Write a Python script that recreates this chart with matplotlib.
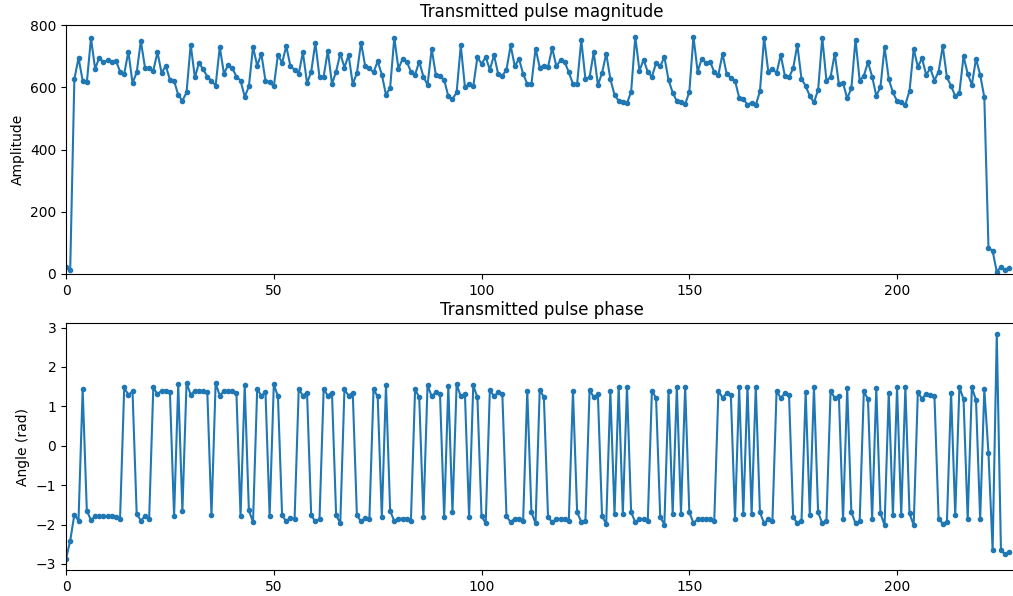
import matplotlib
matplotlib.use("Agg")
import matplotlib.pyplot as plt
import numpy as np

# Pulse magnitude, one value per sample
magnitude = [
    22, 13, 626, 695, 622, 616, 758, 660, 696, 681,
    687, 683, 686, 651, 644, 715, 614, 648, 749, 664,
    661, 654, 713, 646, 669, 625, 621, 576, 557, 584,
    738, 632, 679, 658, 635, 621, 606, 730, 644, 672,
    662, 635, 622, 570, 603, 730, 670, 708, 621, 618,
    603, 705, 679, 733, 668, 657, 644, 713, 614, 650,
    744, 633, 635, 718, 611, 651, 709, 664, 704, 611,
    646, 744, 668, 662, 648, 684, 641, 576, 599, 760,
    660, 692, 682, 651, 641, 683, 635, 608, 724, 640,
    637, 624, 572, 562, 584, 735, 601, 610, 603, 697,
    676, 697, 657, 704, 643, 637, 657, 735, 668, 692,
    644, 611, 611, 725, 664, 670, 666, 727, 668, 687,
    682, 649, 611, 611, 752, 627, 633, 714, 608, 646,
    709, 627, 576, 557, 554, 549, 586, 763, 654, 689,
    650, 634, 678, 668, 698, 624, 583, 556, 552, 546,
    585, 763, 651, 692, 679, 683, 649, 641, 708, 643,
    630, 622, 567, 562, 545, 551, 543, 588, 760, 651,
    660, 646, 705, 637, 632, 662, 737, 627, 605, 572,
    552, 592, 760, 622, 633, 709, 610, 614, 565, 597,
    754, 622, 637, 681, 635, 573, 601, 730, 627, 584,
    556, 552, 545, 589, 724, 666, 694, 641, 661, 622,
    651, 733, 632, 605, 572, 583, 700, 644, 608, 692,
    641, 568, 85, 74, 7, 23, 14, 20,
]

# Pulse phase in radians
phase = [
    -2.87, -2.41, -1.75, -1.90, 1.43, -1.65, -1.89, -1.79, -1.79, -1.79,
    -1.79, -1.79, -1.80, -1.85, 1.48, 1.29, 1.38, -1.73, -1.90, -1.79,
    -1.85, 1.48, 1.31, 1.40, 1.40, 1.36, -1.79, 1.56, -1.66, 1.60,
    1.29, 1.40, 1.39, 1.38, 1.36, -1.77, 1.59, 1.27, 1.39, 1.38,
    1.38, 1.35, -1.79, 1.54, -1.64, -1.94, 1.44, 1.27, 1.36, -1.79,
    1.56, 1.25, -1.77, -1.92, -1.83, -1.87, 1.44, 1.27, 1.35, -1.77,
    -1.92, -1.86, 1.44, 1.27, 1.35, -1.77, -1.96, 1.43, 1.27, 1.35,
    -1.77, -1.92, -1.83, -1.87, 1.43, 1.25, -1.81, 1.53, -1.65, -1.92,
    -1.85, -1.85, -1.85, -1.90, 1.43, 1.23, -1.81, 1.54, 1.25, 1.36,
    1.32, -1.81, 1.52, -1.69, 1.56, 1.25, 1.32, -1.81, 1.53, 1.23,
    -1.79, -1.97, 1.42, 1.25, 1.36, 1.32, -1.79, -1.94, -1.85, -1.85,
    -1.92, 1.40, -1.69, -1.97, 1.42, 1.23, -1.81, -1.94, -1.86, -1.85,
    -1.86, -1.90, 1.39, -1.69, -1.93, -1.90, 1.42, 1.23, 1.31, -1.79,
    -1.98, 1.38, -1.73, 1.50, -1.73, 1.50, -1.69, -1.94, -1.87, -1.87,
    -1.92, 1.40, 1.21, -1.81, -2.00, 1.38, -1.73, 1.50, -1.73, 1.50,
    -1.69, -1.96, -1.87, -1.87, -1.87, -1.87, -1.92, 1.39, 1.22, 1.33,
    1.29, -1.85, 1.48, -1.73, 1.50, -1.73, 1.50, -1.69, -1.97, -1.87,
    -1.92, 1.39, 1.21, 1.33, 1.29, -1.81, -1.97, -1.92, 1.36, -1.75,
    1.49, -1.69, -1.97, -1.92, 1.39, 1.21, 1.27, -1.87, 1.46, -1.69,
    -1.97, -1.92, 1.38, 1.18, -1.87, 1.46, -1.72, -2.02, 1.35, -1.76,
    1.48, -1.76, 1.48, -1.72, -2.02, 1.36, 1.19, 1.32, 1.29, 1.25,
    -1.85, -1.98, -1.93, 1.35, -1.76, 1.49, 1.18, -1.87, 1.48, 1.16,
    -1.87, 1.43, -0.19, -2.65, 2.83, -2.65, -2.76, -2.69,
]

fig = plt.figure(figsize=(10.13, 5.96), dpi=100)
ax1 = fig.add_axes([0.0652, 0.5403, 0.9393, 0.4178])
ax2 = fig.add_axes([0.0652, 0.0436, 0.9393, 0.4144])

ax1.plot(magnitude, '.-')
ax1.set_title("Transmitted pulse magnitude")
ax1.set_ylabel("Amplitude")
ax1.set_ylim(bottom=0)
ax1.set_xlim(0, 229)

ax2.plot(phase, '.-')
ax2.set_title("Transmitted pulse phase")
ax2.set_ylabel("Angle (rad)")
ax2.set_xlim(0, 229)

fig.savefig("out.png", dpi=100)
